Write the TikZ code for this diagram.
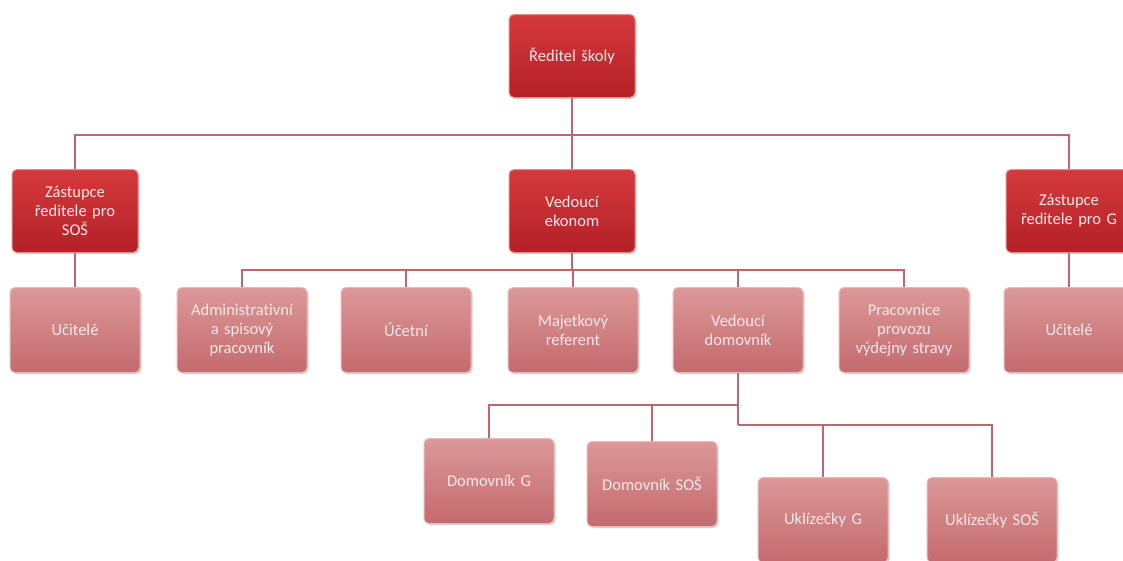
\documentclass[tikz,border=0pt]{standalone}
\usepackage{fontspec}
\setmainfont[Ligatures=NoCommon]{Carlito}
\usetikzlibrary{shadows}
\definecolor{linec}{HTML}{C06470}
\definecolor{topA}{HTML}{D43A3C}
\definecolor{topB}{HTML}{B42026}
\definecolor{topE}{HTML}{E88A8A}
\definecolor{lowA}{HTML}{DC9898}
\definecolor{lowB}{HTML}{C46A6E}
\definecolor{lowE}{HTML}{EBB8B8}
\definecolor{txt}{HTML}{FBE8E8}
\tikzset{
  base/.style={rounded corners=5pt, align=center, text=txt,
    font=\fontsize{16.5}{19}\selectfont, inner sep=2pt,
    drop shadow={shadow xshift=1.5pt, shadow yshift=-1.5pt, opacity=0.35}},
  topbox/.style={base, draw=topE, line width=1pt, top color=topA, bottom color=topB,
    minimum width=126pt, minimum height=83pt, text width=122pt},
  lowbox/.style={base, draw=lowE, line width=1pt, top color=lowA, bottom color=lowB,
    minimum width=127pt, minimum height=85pt, text width=126pt},
  conn/.style={draw=linec, line width=2pt}
}
\begin{document}
\begin{tikzpicture}[x=1pt,y=-1pt]
\useasboundingbox (0,0) rectangle (1123,560);
\clip (0,0) rectangle (1123,560);
\fill[white] (0,0) rectangle (1123,560);
\coordinate (b1) at (572,135);
\coordinate (b2) at (572,270);
\coordinate (b3) at (738,405);
\coordinate (b4) at (738,425);
% nodes
\node[topbox] (dir) at (572,56) {Ředitel školy};
\node[topbox] (zs) at (75,211) {Zástupce\\ředitele pro\\SOŠ};
\node[topbox] (ve) at (572,211) {Vedoucí\\ekonom};
\node[topbox] (zg) at (1069,211) {Zástupce\\ředitele pro G};
\node[lowbox] (ul) at (75,330) {Učitelé};
\node[lowbox] (ad) at (242,330) {Administrativní\\a spisový\\pracovník};
\node[lowbox] (uc) at (406,330) {Účetní};
\node[lowbox] (ma) at (573,330) {Majetkový\\referent};
\node[lowbox] (vd) at (738,330) {Vedoucí\\domovník};
\node[lowbox] (pr) at (904,330) {Pracovnice\\provozu\\výdejny stravy};
\node[lowbox] (ur) at (1069,330) {Učitelé};
\node[lowbox] (dg) at (489,481) {Domovník G};
\node[lowbox] (ds) at (652,484) {Domovník SOŠ};
\node[lowbox] (kg) at (823,520) {Uklízečky G};
\node[lowbox] (ks) at (992,520) {Uklízečky SOŠ};
% level 1
\path[conn] (dir.south) -- (ve.north);
\path[conn] (zs.north) |- (b1) -| (zg.north);
\path[conn] (zs.south) -- (ul.north);
\path[conn] (zg.south) -- (ur.north);
% level 2
\path[conn] (ve.south) -- (ve.south |- b2);
\path[conn] (ad.north) |- (b2) -| (pr.north);
\path[conn] (uc.north) -- (uc.north |- b2);
\path[conn] (ma.north) -- (ma.north |- b2);
\path[conn] (vd.north) -- (vd.north |- b2);
% level 3
\path[conn] (vd.south) -- (b4);
\path[conn] (dg.north) |- (b3);
\path[conn] (ds.north) -- (ds.north |- b3);
\path[conn] (b4) -| (ks.north);
\path[conn] (kg.north) -- (kg.north |- b4);
\end{tikzpicture}
\end{document}
